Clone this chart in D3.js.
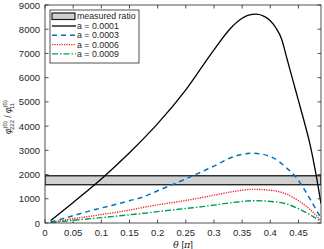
<!DOCTYPE html>
<html><head><meta charset="utf-8">
<script src="https://cdn.jsdelivr.net/npm/d3@7"></script>
<style>body{margin:0;background:#fff}svg{display:block}text{font-family:"Liberation Sans",Arial,sans-serif;fill:#262626}</style>
</head><body>
<script>
const thetaBlack = [0.01,0.05,0.1,0.15,0.2,0.25,0.3,0.33,0.35,0.36,0.375,0.39,0.4,0.41,0.42,0.43,0.44,0.45,0.46,0.47,0.48,0.49];
const valBlack   = [100,850,1820,2900,4100,5500,7150,8050,8450,8570,8620,8520,8350,8050,7600,6750,5900,5050,4200,3300,2150,800];
const thetaOther = [0.01,0.05,0.075,0.1,0.15,0.176,0.2,0.25,0.285,0.3,0.335,0.37,0.406,0.43,0.448,0.46,0.4715,0.49];
const valBlue    = [40,300,470,620,920,1090,1330,1820,2190,2350,2740,2880,2680,2250,1820,1400,950,200];
const valRed     = [20,180,260,350,530,650,750,930,1080,1150,1300,1390,1335,1180,950,760,540,90];
const valGreen   = [15,110,165,220,340,400,470,600,690,740,850,920,880,780,610,470,330,70];
const seriesNames = ["a = 0.0001","a = 0.0003","a = 0.0006","a = 0.0009"];
const bandRange = [1580,1950];
const xTicks = [0,0.05,0.1,0.15,0.2,0.25,0.3,0.35,0.4,0.45];
const yTicks = [0,1000,2000,3000,4000,5000,6000,7000,8000,9000];

const W=324,H=249;
const svg=d3.select("body").append("svg").attr("width",W).attr("height",H);
const L=45,R=321,T=5,B=223;
const x=d3.scaleLinear().domain([0,0.49]).range([L,R]);
const y=d3.scaleLinear().domain([0,9000]).range([B,T]);

svg.append("clipPath").attr("id","c").append("rect").attr("x",L).attr("y",T).attr("width",R-L).attr("height",B-T);
const g=svg.append("g").attr("clip-path","url(#c)");

// band
g.append("rect").attr("x",L).attr("width",R-L).attr("y",y(bandRange[1])).attr("height",y(bandRange[0])-y(bandRange[1]))
 .attr("fill","#d0d0d0").attr("stroke","#1a1a1a").attr("stroke-width",1.3);

const line=d3.line().curve(d3.curveMonotoneX).x(d=>x(d[0])).y(d=>y(d[1]));
const series=[
 {xs:thetaBlack,ys:valBlack,color:"#000000",dash:null,w:1.3},
 {xs:thetaOther,ys:valBlue,color:"#0072bd",dash:"5,4",w:1.5},
 {xs:thetaOther,ys:valRed,color:"#ee1c25",dash:"1.2,1.2",w:1.4},
 {xs:thetaOther,ys:valGreen,color:"#00a04a",dash:"6,2,1.5,2",w:1.4}
];
series.forEach(s=>{
 g.append("path").attr("d",line(s.xs.map((t,i)=>[t,s.ys[i]]))).attr("fill","none")
  .attr("stroke",s.color).attr("stroke-width",s.w).attr("stroke-dasharray",s.dash);
});

// axes
const ax=svg.append("g").attr("stroke","#262626").attr("stroke-width",0.8);
ax.append("rect").attr("x",L).attr("y",T).attr("width",R-L).attr("height",B-T).attr("fill","none");
const tl=3.5;
xTicks.forEach(t=>{
 ax.append("line").attr("x1",x(t)).attr("x2",x(t)).attr("y1",B).attr("y2",B-tl);
 ax.append("line").attr("x1",x(t)).attr("x2",x(t)).attr("y1",T).attr("y2",T+tl);
 svg.append("text").attr("x",x(t)).attr("y",B+12.5).attr("text-anchor","middle").attr("font-size",9.5).text(t);
});
yTicks.forEach(t=>{
 ax.append("line").attr("x1",L).attr("x2",L+tl).attr("y1",y(t)).attr("y2",y(t));
 ax.append("line").attr("x1",R).attr("x2",R-tl).attr("y1",y(t)).attr("y2",y(t));
 svg.append("text").attr("x",L-5).attr("y",y(t)+3.5).attr("text-anchor","end").attr("font-size",9.5).text(t);
});

// x label
const xl=svg.append("text").attr("x",183).attr("y",247.5).attr("text-anchor","middle").attr("font-size",9.5);
xl.append("tspan").attr("font-style","italic").attr("font-family","DejaVu Serif, serif").text("θ");
xl.append("tspan").text(" [");
xl.append("tspan").attr("font-style","italic").attr("font-family","DejaVu Serif, serif").text("π");
xl.append("tspan").text("]");

// y label
const yl=svg.append("text").attr("transform","translate(11,"+117+") rotate(-90)").attr("text-anchor","middle").attr("font-size",8.5);
yl.append("tspan").attr("font-style","italic").text("φ");
yl.append("tspan").attr("font-size",6).attr("dy",-4).text("(0)");
yl.append("tspan").attr("font-size",6).attr("dx",-9).attr("dy",7).text("222");
yl.append("tspan").attr("dy",-3).text(" / ");
yl.append("tspan").attr("font-style","italic").text("φ");
yl.append("tspan").attr("font-size",6).attr("dy",-4).text("(0)");
yl.append("tspan").attr("font-size",6).attr("dx",-9).attr("dy",7).text("11");

// legend
const lg=svg.append("g");
lg.append("rect").attr("x",50).attr("y",10).attr("width",89).attr("height",53).attr("fill","#fff").attr("stroke","#262626").attr("stroke-width",0.8);
lg.append("rect").attr("x",52).attr("y",13).attr("width",23).attr("height",6.5).attr("fill","#d0d0d0").attr("stroke","#1a1a1a").attr("stroke-width",1.2);
lg.append("text").attr("x",77).attr("y",19.3).attr("font-size",8.8).text("measured ratio");
series.forEach((s,i)=>{
 const yy=26+i*9.3;
 lg.append("line").attr("x1",52).attr("x2",76).attr("y1",yy).attr("y2",yy).attr("stroke",s.color).attr("stroke-width",s.w).attr("stroke-dasharray",s.dash);
 lg.append("text").attr("x",77).attr("y",yy+3.1).attr("font-size",8.8).text(seriesNames[i]);
});
</script>
</body></html>
